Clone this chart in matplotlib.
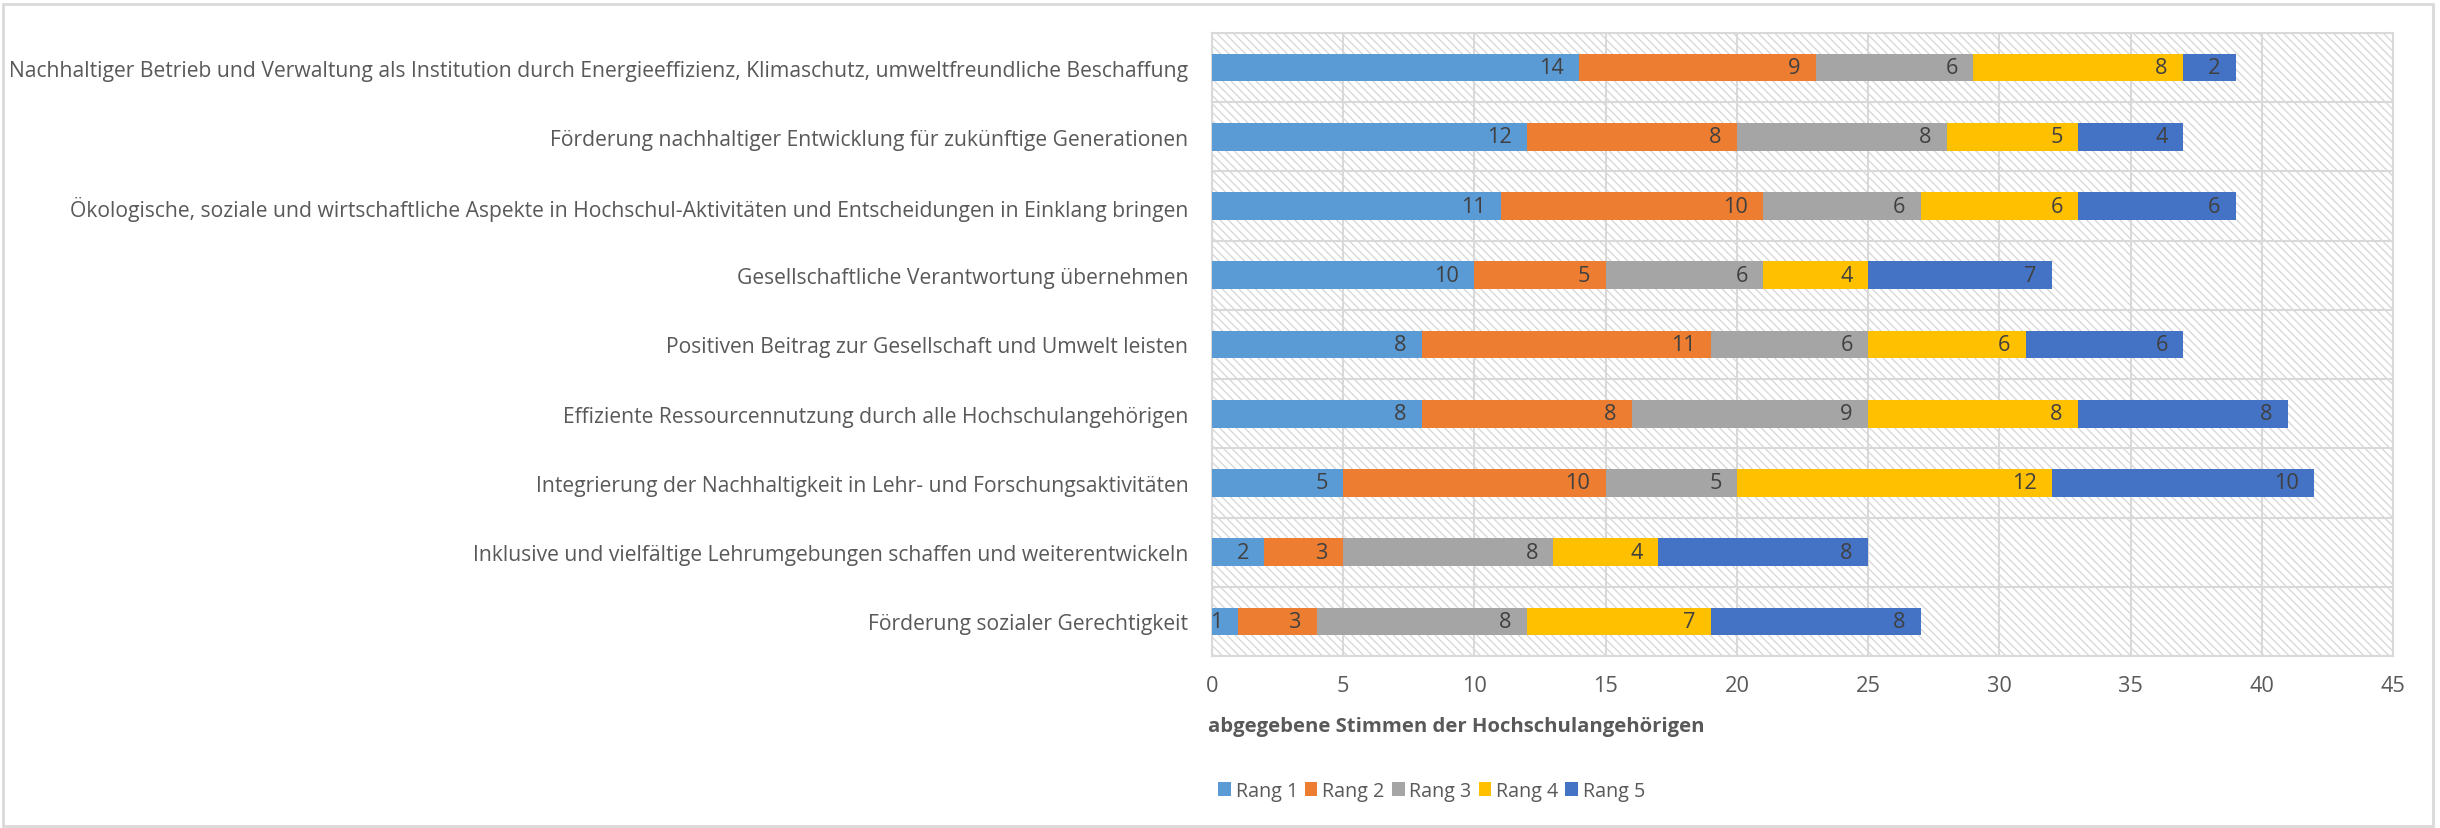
import matplotlib.pyplot as plt
import matplotlib.patches as mpatches
import numpy as np

plt.rcParams['font.family'] = ['Open Sans', 'DejaVu Sans']
plt.rcParams['hatch.color'] = '#d6d6d6'
plt.rcParams['hatch.linewidth'] = 0.9

# Kategorien von oben nach unten
categories = [
    'Nachhaltiger Betrieb und Verwaltung als Institution durch Energieeffizienz, Klimaschutz, umweltfreundliche Beschaffung',
    'Förderung nachhaltiger Entwicklung für zukünftige Generationen',
    'Ökologische, soziale und wirtschaftliche Aspekte in Hochschul-Aktivitäten und Entscheidungen in Einklang bringen',
    'Gesellschaftliche Verantwortung übernehmen',
    'Positiven Beitrag zur Gesellschaft und Umwelt leisten',
    'Effiziente Ressourcennutzung durch alle Hochschulangehörigen',
    'Integrierung der Nachhaltigkeit in Lehr- und Forschungsaktivitäten',
    'Inklusive und vielfältige Lehrumgebungen schaffen und weiterentwickeln',
    'Förderung sozialer Gerechtigkeit',
]
rang1 = [14, 12, 11, 10, 8, 8, 5, 2, 1]
rang2 = [9, 8, 10, 5, 11, 8, 10, 3, 3]
rang3 = [6, 8, 6, 6, 6, 9, 5, 8, 8]
rang4 = [8, 5, 6, 4, 6, 8, 12, 4, 7]
rang5 = [2, 4, 6, 7, 6, 8, 10, 8, 8]
series_names = ['Rang 1', 'Rang 2', 'Rang 3', 'Rang 4', 'Rang 5']
colors = ['#5B9BD5', '#ED7D31', '#A5A5A5', '#FFC000', '#4472C4']

fs = 15.2

fig = plt.figure(figsize=(24.4, 8.29), dpi=100)
ax = fig.add_axes([1212 / 2440, 1 - 657 / 829, (2393 - 1212) / 2440, (657 - 34) / 829])

# schraffierter Hintergrund
ax.add_patch(mpatches.Rectangle((0, 0), 1, 1, transform=ax.transAxes, facecolor='white',
                                hatch='\\\\\\\\', edgecolor='#d6d6d6', linewidth=0, zorder=0))

y = np.arange(len(categories))[::-1]
left = np.zeros(len(categories))
for name, vals, col in zip(series_names, [rang1, rang2, rang3, rang4, rang5], colors):
    vals = np.array(vals)
    ax.barh(y, vals, left=left, height=0.4, color=col, label=name, zorder=3)
    for yi, l, v in zip(y, left, vals):
        ax.annotate(str(v), (l + v, yi), xytext=(-11, 0), textcoords='offset points',
                    ha='right', va='center', fontsize=fs + 0.5, color='#404040', zorder=4)
    left = left + vals

ax.set_xlim(0, 45)
ax.set_ylim(-0.5, len(categories) - 0.5)
ax.set_xticks(np.arange(0, 46, 5))
ax.set_yticks(y)
ax.set_yticklabels(categories)
ax.set_yticks(np.arange(-0.5, len(categories), 1), minor=True)
ax.grid(axis='x', color='#d9d9d9', linewidth=1.5, zorder=1)
ax.grid(axis='y', which='minor', color='#d9d9d9', linewidth=1.5, zorder=1)
ax.tick_params(axis='both', which='both', length=0)
ax.tick_params(axis='y', pad=17, labelsize=fs, labelcolor='#595959')
ax.tick_params(axis='x', pad=14, labelsize=fs + 0.5, labelcolor='#595959')
for s in ax.spines.values():
    s.set_color('#d9d9d9')
    s.set_linewidth(1.5)

fig.text(1208 / 2440, 1 - 727 / 829, 'abgegebene Stimmen der Hochschulangehörigen',
         fontsize=14.6, fontweight='bold', color='#595959', ha='left', va='center')

ax.legend(loc='center left', bbox_to_anchor=(1200 / 2440, 1 - 792 / 829),
          bbox_transform=fig.transFigure, ncol=5, frameon=False, fontsize=14.2,
          handlelength=0.65, handleheight=0.65, handletextpad=0.25, columnspacing=0.35,
          labelcolor='#595959')

# Rahmen um die Grafik
fig.add_artist(mpatches.Rectangle((3 / 2440, 2 / 829), 2430 / 2440, 822 / 829,
                                  transform=fig.transFigure, fill=False,
                                  edgecolor='#d9d9d9', linewidth=2))

fig.savefig('out.png', dpi=100)
